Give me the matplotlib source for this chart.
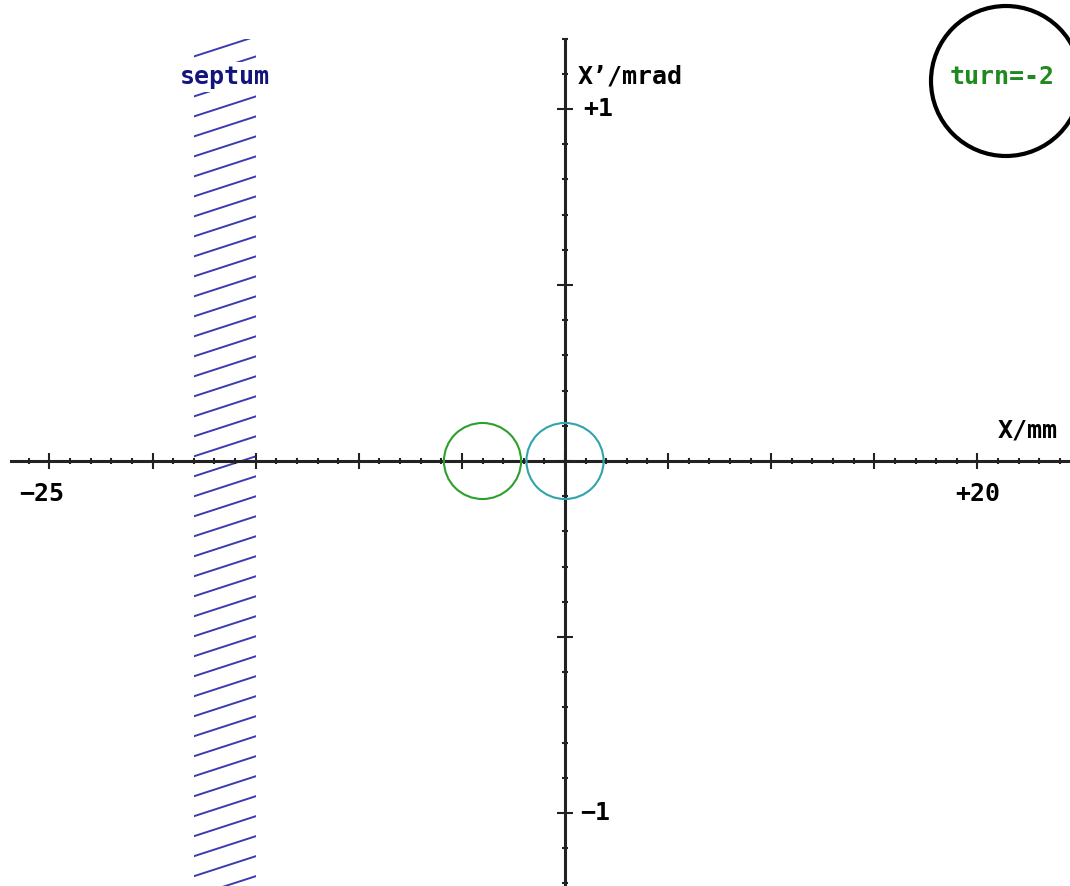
import numpy as np
import matplotlib
matplotlib.use("Agg")
import matplotlib.pyplot as plt
from matplotlib.patches import Ellipse, Rectangle

# phase space at the septum, X in mm, X' in mrad
beam_x = [-4.0, 0.0]          # ellipse centres
beam_xp = [0.0, 0.0]
beam_a = [1.87, 1.87]         # half width in X
beam_b = [0.108, 0.108]       # half height in X'
beam_col = ['#2ca02c', '#30a4ac']

septum_x = [-18.0, -15.0]     # septum blade
turn = -2

xticks_lab = [-25, 20]
yticks_lab = [1, -1]

plt.rcParams['font.family'] = ['DejaVu Sans Mono']
fig = plt.figure(figsize=(10.7, 8.86), dpi=100)
ax = fig.add_axes([0, 0, 1, 1])
ax.set_xlim(-27.40, 24.49)
ax.set_ylim(-1.2074, 1.3097)

axc = '#222222'
for s in ['top', 'right']:
    ax.spines[s].set_visible(False)
ax.spines['left'].set_position(('data', 0))
ax.spines['bottom'].set_position(('data', 0))
ax.spines['bottom'].set_bounds(-26.85, 24.6)
ax.spines['left'].set_bounds(-1.25, 1.2)
for s in ['left', 'bottom']:
    ax.spines[s].set_linewidth(2.2)
    ax.spines[s].set_color(axc)

ax.set_xticks(np.arange(-25, 21, 5))
ax.set_xticks(np.arange(-26, 25, 1), minor=True)
ax.set_yticks(np.arange(-1.0, 1.01, 0.5))
ax.set_yticks(np.arange(-1.2, 1.21, 0.1), minor=True)
ax.tick_params(which='major', direction='inout', length=11.5, width=1.5, color=axc,
               labelbottom=False, labelleft=False)
ax.tick_params(which='minor', direction='inout', length=5, width=1.5, color=axc)

# septum hatching
hcol = '#3c3cb0'
clip = Rectangle((septum_x[0], -1.25), septum_x[1] - septum_x[0], 1.2 + 1.25,
                 transform=ax.transData, facecolor='none', edgecolor='none')
ax.add_patch(clip)
step = 0.0568
for y0 in np.arange(-1.35, 1.3, step):
    ln, = ax.plot(septum_x, [y0, y0 + step], color=hcol, lw=1.4, zorder=1)
    ln.set_clip_path(clip)

ax.text(np.mean(septum_x), 1.091, 'septum', color='#14147e', fontsize=18,
        fontweight='bold', ha='center', va='center', zorder=5,
        bbox=dict(facecolor='white', edgecolor='none', pad=2))

# beam ellipses
for cx, cy, a, b, c in zip(beam_x, beam_xp, beam_a, beam_b, beam_col):
    ax.add_patch(Ellipse((cx, cy), 2 * a, 2 * b, fill=False, edgecolor=c, lw=1.5, zorder=3))

# axis labels
tk = dict(fontsize=18, fontweight='bold', color='black')
ax.text(0.63, 1.091, 'X’/mrad', ha='left', va='center', **tk)
ax.text(0.87, yticks_lab[0], '+1', ha='left', va='center', **tk)
ax.text(0.73, yticks_lab[1], '−1', ha='left', va='center', **tk)
ax.text(23.9, 0.088, 'X/mm', ha='right', va='center', **tk)
ax.text(xticks_lab[0] - 0.36, -0.094, '−25', ha='center', va='center', **tk)
ax.text(xticks_lab[1], -0.094, '+20', ha='center', va='center', **tk)

# turn counter
ax.add_patch(Ellipse((1006 / 1070, 1 - 81 / 886), 150 / 1070, 150 / 886,
                     transform=ax.transAxes, fill=False, edgecolor='black',
                     lw=3, clip_on=False))
ax.text(1002 / 1070, 1 - 77 / 886, 'turn=%d' % turn, transform=ax.transAxes,
        color='#1f8a1f', fontsize=18, fontweight='bold', ha='center', va='center')

fig.savefig('out.png', dpi=100)
